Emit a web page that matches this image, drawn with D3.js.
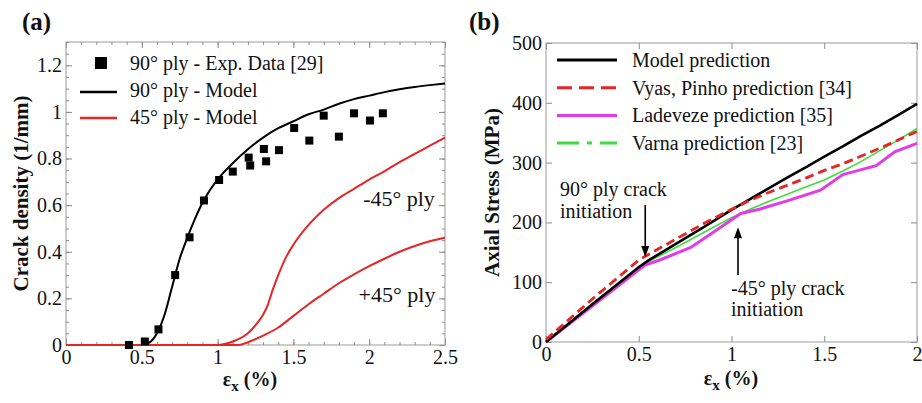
<!DOCTYPE html>
<html>
<head>
<meta charset="utf-8">
<script src="https://cdn.jsdelivr.net/npm/d3@7"></script>
<style>
  body { margin: 0; background: #fff; }
  svg { display: block; }
  text { font-family: "Liberation Serif", "Times New Roman", serif; fill: #111; }
</style>
</head>
<body>
<svg id="fig" width="922" height="403"></svg>
<script>
// ---------- Panel (a): crack density vs strain ----------
const strainExp = [0.415, 0.52, 0.61, 0.72, 0.815, 0.91, 1.01, 1.10, 1.205, 1.215, 1.305, 1.32, 1.405, 1.505, 1.605, 1.70, 1.80, 1.90, 2.005, 2.09];
const crackExp  = [0, 0.015, 0.067, 0.30, 0.462, 0.62, 0.708, 0.744, 0.804, 0.77, 0.841, 0.788, 0.836, 0.931, 0.877, 0.984, 0.894, 0.994, 0.963, 0.994];

const strain90 = [0, 0.5, 0.55, 0.6, 0.65, 0.7, 0.75, 0.8, 0.85, 0.9, 0.95, 1.0, 1.1, 1.2, 1.3, 1.4, 1.5, 1.6, 1.7, 1.8, 1.9, 2.0, 2.1, 2.2, 2.3, 2.4, 2.5];
const crack90  = [0, 0, 0.01, 0.05, 0.13, 0.25, 0.37, 0.46, 0.54, 0.61, 0.665, 0.71, 0.78, 0.84, 0.89, 0.93, 0.96, 0.99, 1.01, 1.035, 1.055, 1.07, 1.085, 1.097, 1.107, 1.115, 1.122];

const strainNeg45 = [0, 1.0, 1.1, 1.2, 1.25, 1.3, 1.33, 1.36, 1.4, 1.45, 1.5, 1.6, 1.7, 1.8, 1.9, 2.0, 2.1, 2.2, 2.3, 2.4, 2.5];
const crackNeg45  = [0, 0, 0.015, 0.05, 0.085, 0.13, 0.17, 0.23, 0.30, 0.375, 0.43, 0.515, 0.58, 0.63, 0.67, 0.71, 0.745, 0.785, 0.82, 0.855, 0.89];

const strainPos45 = [0, 1.14, 1.2, 1.3, 1.4, 1.5, 1.6, 1.7, 1.8, 1.9, 2.0, 2.1, 2.2, 2.3, 2.4, 2.5];
const crackPos45  = [0, 0, 0.012, 0.04, 0.075, 0.125, 0.175, 0.22, 0.265, 0.303, 0.338, 0.37, 0.40, 0.425, 0.445, 0.46];

const xTicksA = [0, 0.5, 1, 1.5, 2, 2.5];
const yTicksA = [0, 0.2, 0.4, 0.6, 0.8, 1, 1.2];
const legendA = ["90\u00b0 ply - Exp. Data [29]", "90\u00b0 ply - Model", "45\u00b0 ply - Model"];

// ---------- Panel (b): axial stress vs strain ----------
const strainB     = [0, 0.25, 0.5, 0.55, 0.7, 0.85, 1.0, 1.1, 1.2, 1.3, 1.4, 1.5, 1.6, 1.7, 1.8, 1.9, 2.0];
const stressModel = [0, 63, 125, 136, 164, 192, 221, 239, 257, 275, 292, 310, 327, 345, 362, 380, 398];
const stressVyas  = [4, 72, 137, 146, 172, 198, 222, 237, 250, 262, 274, 287, 298, 311, 324, 338, 352];
const stressVarna = [0, 64, 126, 134, 158, 183, 208, 222, 235, 247, 259, 271, 286, 302, 320, 338, 357];
const strainLad   = [0, 0.53, 0.62, 0.78, 0.9, 1.05, 1.15, 1.3, 1.48, 1.6, 1.78, 1.88, 2.0];
const stressLad   = [0, 128, 138, 158, 183, 215, 222, 236, 254, 280, 295, 318, 332];

const xTicksB = [0, 0.5, 1, 1.5, 2];
const yTicksB = [0, 100, 200, 300, 400, 500];
const legendB = ["Model prediction", "Vyas, Pinho prediction [34]", "Ladeveze prediction [35]", "Varna prediction [23]"];

const RED = "#e42626", MAGENTA = "#e23ce6", GREEN = "#3fdc3f";

const svg = d3.select("#fig");
const zip = (xs, ys) => xs.map((x, i) => [x, ys[i]]);
const fmt = d => String(d);

function frame(g, x, y, major, minor) {
  const [x0, x1] = x.range(), [y0, y1] = y.range();
  const tickCol = "#8a8a8a";
  const style = sel => {
    sel.select(".domain").remove();
    sel.selectAll(".tick line").attr("stroke", tickCol);
    sel.selectAll(".tick text").attr("font-size", 20).attr("fill", "#111");
  };
  // minor ticks (no labels)
  if (minor) {
    g.append("g").attr("transform", `translate(0,${y0})`).call(d3.axisBottom(x).tickValues(minor.x).tickSize(-3).tickFormat("")).call(style);
    g.append("g").attr("transform", `translate(0,${y1})`).call(d3.axisTop(x).tickValues(minor.x).tickSize(-3).tickFormat("")).call(style);
    g.append("g").attr("transform", `translate(${x0},0)`).call(d3.axisLeft(y).tickValues(minor.y).tickSize(-3).tickFormat("")).call(style);
    g.append("g").attr("transform", `translate(${x1},0)`).call(d3.axisRight(y).tickValues(minor.y).tickSize(-3).tickFormat("")).call(style);
  }
  g.append("g").attr("transform", `translate(0,${y0})`)
    .call(d3.axisBottom(x).tickValues(major.x).tickSize(-6).tickPadding(5).tickFormat(fmt)).call(style);
  g.append("g").attr("transform", `translate(0,${y1})`)
    .call(d3.axisTop(x).tickValues(major.x).tickSize(-6).tickFormat("")).call(style);
  g.append("g").attr("transform", `translate(${x0},0)`)
    .call(d3.axisLeft(y).tickValues(major.y).tickSize(-6).tickPadding(4).tickFormat(fmt)).call(style);
  g.append("g").attr("transform", `translate(${x1},0)`)
    .call(d3.axisRight(y).tickValues(major.y).tickSize(-6).tickFormat("")).call(style);
  g.append("rect").attr("x", x0).attr("y", y1).attr("width", x1 - x0).attr("height", y0 - y1)
    .attr("fill", "none").attr("stroke", "#9a9a9a").attr("stroke-width", 1);
}

function xLabel(g, cx, y) {
  const t = g.append("text").attr("x", cx).attr("y", y).attr("text-anchor", "middle")
    .attr("font-size", 20).attr("font-weight", "bold");
  t.append("tspan").text("\u03b5");
  t.append("tspan").attr("font-size", 15).attr("dy", 5).text("x");
  t.append("tspan").attr("dy", -5).text(" (%)");
}

// ================= Panel (a) =================
const xA = d3.scaleLinear().domain([0, 2.5]).range([66, 445]);
const yA = d3.scaleLinear().domain([0, 1.3]).range([345, 42]);
const gA = svg.append("g");

frame(gA, xA, yA, { x: xTicksA, y: yTicksA },
  { x: d3.range(0, 2.51, 0.1), y: d3.range(0, 1.31, 0.05) });

const lineA = d3.line().x(d => xA(d[0])).y(d => yA(d[1])).curve(d3.curveMonotoneX);

gA.append("path").datum(zip(strain90, crack90)).attr("d", lineA)
  .attr("fill", "none").attr("stroke", "#000").attr("stroke-width", 2);
gA.append("path").datum(zip(strainNeg45, crackNeg45)).attr("d", lineA)
  .attr("fill", "none").attr("stroke", RED).attr("stroke-width", 2);
gA.append("path").datum(zip(strainPos45, crackPos45)).attr("d", lineA)
  .attr("fill", "none").attr("stroke", RED).attr("stroke-width", 2);

const sq = 8;
gA.selectAll("rect.exp").data(zip(strainExp, crackExp)).join("rect").attr("class", "exp")
  .attr("x", d => xA(d[0]) - sq / 2).attr("y", d => yA(d[1]) - sq / 2)
  .attr("width", sq).attr("height", sq).attr("fill", "#000");

gA.append("text").attr("x", xA(1.96)).attr("y", yA(0.595)).attr("font-size", 22).text("-45\u00b0 ply");
gA.append("text").attr("x", xA(1.93)).attr("y", yA(0.185)).attr("font-size", 22).text("+45\u00b0 ply");

// legend (a)
const legA = gA.append("g");
legA.append("rect").attr("x", 95).attr("y", 57).attr("width", 12).attr("height", 12).attr("fill", "#000");
legA.append("line").attr("x1", 80).attr("x2", 117).attr("y1", 92).attr("y2", 92).attr("stroke", "#000").attr("stroke-width", 2.5);
legA.append("line").attr("x1", 80).attr("x2", 117).attr("y1", 118).attr("y2", 118).attr("stroke", RED).attr("stroke-width", 2.5);
legA.selectAll("text.leg").data(legendA).join("text").attr("class", "leg")
  .attr("x", 130).attr("y", (d, i) => 70 + i * 27).attr("font-size", 20).text(d => d);

xLabel(gA, 250, 386);
gA.append("text").attr("transform", `translate(28,${(yA.range()[0] + yA.range()[1]) / 2}) rotate(-90)`)
  .attr("text-anchor", "middle").attr("font-size", 21).attr("font-weight", "bold").text("Crack density (1/mm)");
gA.append("text").attr("x", 22).attr("y", 30).attr("font-size", 25).attr("font-weight", "bold").text("(a)");

// ================= Panel (b) =================
const xB = d3.scaleLinear().domain([0, 2]).range([546, 917]);
const yB = d3.scaleLinear().domain([0, 500]).range([342, 43]);
const gB = svg.append("g");

frame(gB, xB, yB, { x: xTicksB, y: yTicksB }, null);

const lineB = d3.line().x(d => xB(d[0])).y(d => yB(d[1]));

gB.append("path").datum(zip(strainB, stressVarna)).attr("d", lineB)
  .attr("fill", "none").attr("stroke", GREEN).attr("stroke-width", 1.6);
gB.append("path").datum(zip(strainLad, stressLad)).attr("d", lineB)
  .attr("fill", "none").attr("stroke", MAGENTA).attr("stroke-width", 3);
gB.append("path").datum(zip(strainB, stressModel)).attr("d", lineB)
  .attr("fill", "none").attr("stroke", "#000").attr("stroke-width", 2.6);
gB.append("path").datum(zip(strainB, stressVyas)).attr("d", lineB)
  .attr("fill", "none").attr("stroke", RED).attr("stroke-width", 2.8).attr("stroke-dasharray", "9,5");

// legend (b)
const legStyles = [
  { stroke: "#000", dash: null, w: 3 },
  { stroke: RED, dash: "15,7", w: 3 },
  { stroke: MAGENTA, dash: null, w: 3 },
  { stroke: GREEN, dash: "22,8,5,8", w: 3 }
];
const legB = gB.append("g");
legendB.forEach((label, i) => {
  const yy = 60 + i * 27.7;
  const s = legStyles[i];
  legB.append("line").attr("x1", 557).attr("x2", 617).attr("y1", yy).attr("y2", yy)
    .attr("stroke", s.stroke).attr("stroke-width", s.w).attr("stroke-dasharray", s.dash);
  legB.append("text").attr("x", 632).attr("y", yy + 7).attr("font-size", 20).text(label);
});

// crack-initiation annotations
const arrow = (x, yFrom, yTo) => {
  const dir = Math.sign(yTo - yFrom);
  gB.append("line").attr("x1", x).attr("x2", x).attr("y1", yFrom).attr("y2", yTo - dir * 9)
    .attr("stroke", "#000").attr("stroke-width", 1.6);
  gB.append("path").attr("d", `M${x},${yTo} L${x - 4},${yTo - dir * 11} L${x + 4},${yTo - dir * 11} Z`).attr("fill", "#000");
};
arrow(xB(0.535), yB(229), yB(142));
arrow(xB(1.035), yB(112), yB(192));

gB.append("text").attr("x", 560).attr("y", 196).attr("font-size", 20).text("90\u00b0 ply crack");
gB.append("text").attr("x", 560).attr("y", 218).attr("font-size", 20).text("initiation");
gB.append("text").attr("x", 731).attr("y", 295).attr("font-size", 20).text("-45\u00b0 ply crack");
gB.append("text").attr("x", 731).attr("y", 316).attr("font-size", 20).text("initiation");

xLabel(gB, 731, 385);
gB.append("text").attr("transform", `translate(499,${(yB.range()[0] + yB.range()[1]) / 2}) rotate(-90)`)
  .attr("text-anchor", "middle").attr("font-size", 21).attr("font-weight", "bold").text("Axial Stress (MPa)");
gB.append("text").attr("x", 469).attr("y", 30).attr("font-size", 25).attr("font-weight", "bold").text("(b)");
</script>
</body>
</html>
